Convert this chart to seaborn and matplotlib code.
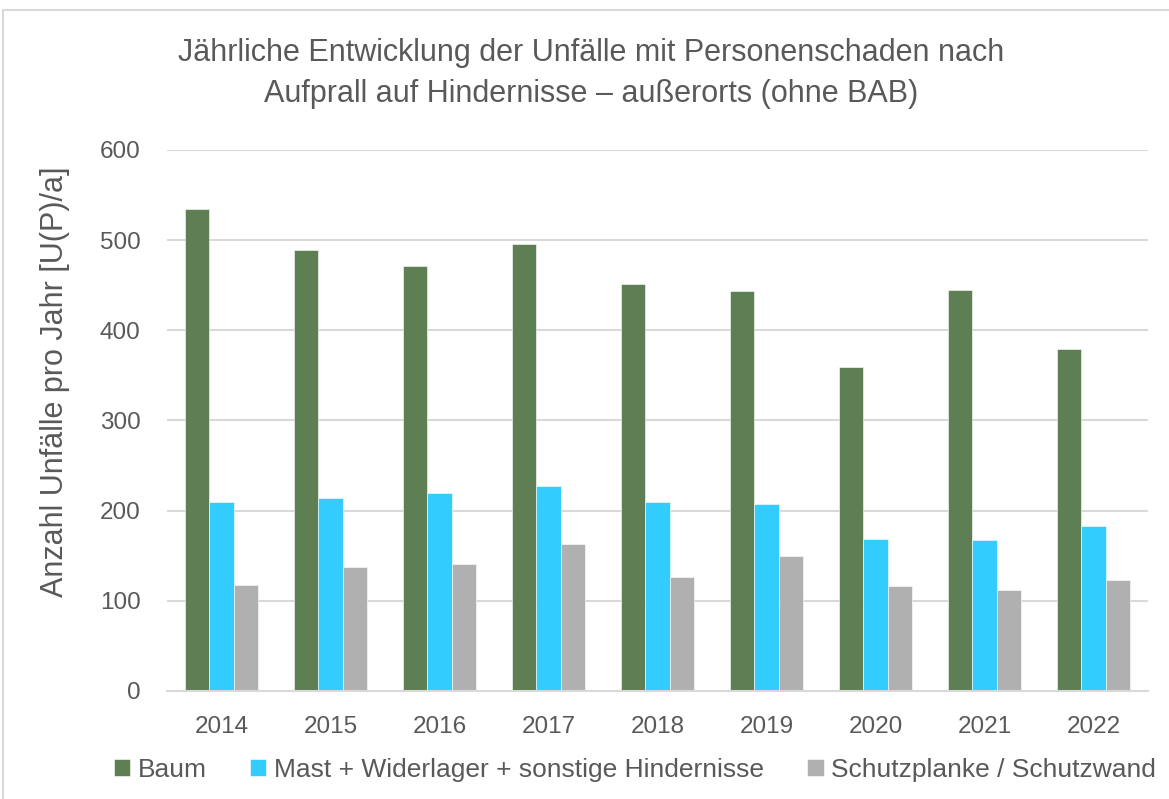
import seaborn as sns
import pandas as pd
import matplotlib.pyplot as plt
from matplotlib.patches import Rectangle

years = ['2014', '2015', '2016', '2017', '2018', '2019', '2020', '2021', '2022']
baum = [535, 489, 471, 496, 451, 444, 359, 445, 379]
mast = [210, 214, 220, 227, 210, 207, 169, 167, 183]
schutz = [118, 138, 141, 163, 126, 150, 116, 112, 123]
series = ['Baum', 'Mast + Widerlager + sonstige Hindernisse', 'Schutzplanke / Schutzwand']
colors = ['#5E7E53', '#33CCFF', '#B0B0B0']

df = pd.DataFrame({'year': years * 3,
                   'value': baum + mast + schutz,
                   'typ': [series[0]] * 9 + [series[1]] * 9 + [series[2]] * 9})

sns.set_style('white')
plt.rcParams['font.family'] = ['Liberation Sans Narrow', 'Liberation Sans', 'DejaVu Sans']
txt = '#595959'

fig = plt.figure(figsize=(11.69, 7.99), dpi=100)
ax = fig.add_axes([0.1429, 0.1352, 0.8391, 0.6771])

sns.barplot(data=df, x='year', y='value', hue='typ', palette=colors, saturation=1,
            width=0.67, gap=0, edgecolor='white', linewidth=0.4, ax=ax)

ax.set_ylim(0, 600)
ax.set_yticks(range(0, 601, 100))
ax.set_xlim(-0.5, 8.5)
ax.grid(axis='y', color='#D9D9D9', linewidth=1.5)
ax.set_axisbelow(True)
for s in ['left', 'right', 'top']:
    ax.spines[s].set_visible(False)
ax.spines['bottom'].set_color('#D9D9D9')
ax.spines['bottom'].set_linewidth(1.5)
ax.tick_params(axis='both', length=0, labelsize=17.5, labelcolor=txt)
ax.tick_params(axis='y', pad=19)
ax.tick_params(axis='x', pad=18)
ax.set_xlabel('')
ax.set_ylabel('')

handles, labels = ax.get_legend_handles_labels()
ax.get_legend().remove()
fig.legend(handles, labels, loc='center', bbox_to_anchor=(0.5428, 0.0363), ncol=3,
           frameon=False, fontsize=19, labelcolor=txt, handlelength=0.64, handleheight=0.6,
           handletextpad=0.27, columnspacing=1.63)

fig.text(0.506, 0.908, 'Jährliche Entwicklung der Unfälle mit Personenschaden nach\n'
         'Aufprall auf Hindernisse – außerorts (ohne BAB)',
         ha='center', va='center', fontsize=22, color=txt, linespacing=1.45)
fig.text(0.047, 0.522, 'Anzahl Unfälle pro Jahr [U(P)/a]', rotation=90,
         ha='center', va='center', fontsize=22, color=txt)

fig.patches.append(Rectangle((3 / 1169, -0.1), 1.2, 0.1 + 789 / 799, transform=fig.transFigure,
                             fill=False, edgecolor='#D9D9D9', linewidth=1.5))

fig.savefig('out.png', dpi=100)
